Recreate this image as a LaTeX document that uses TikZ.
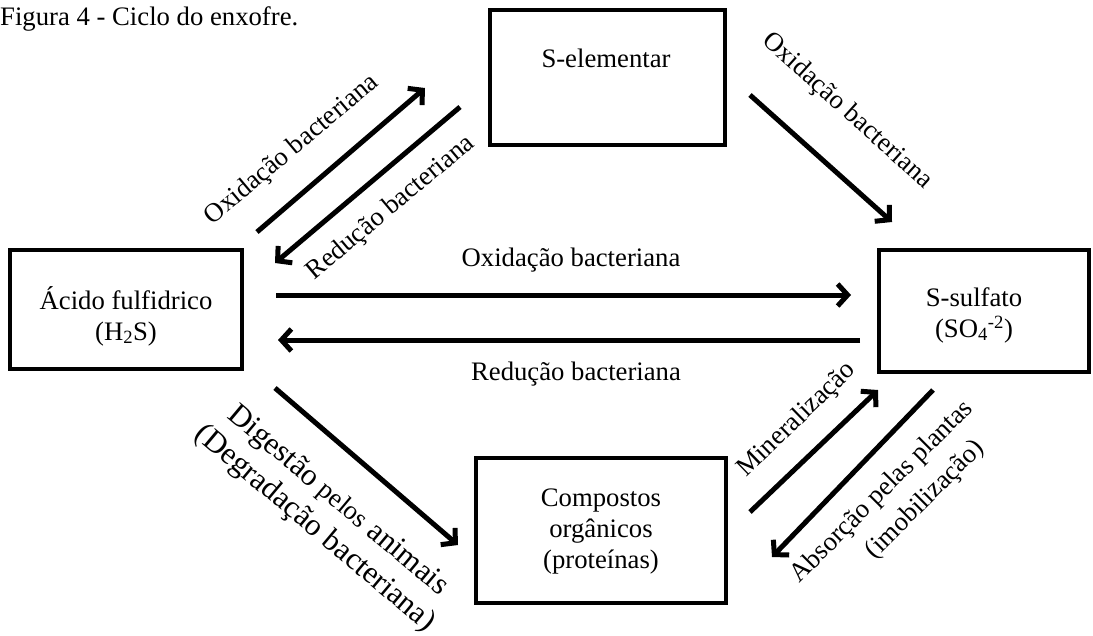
\documentclass[tikz,border=0pt]{standalone}
\usepackage{fontspec}
\setmainfont{Liberation Serif}
\usetikzlibrary{arrows.meta}
\begin{document}
\begin{tikzpicture}[x=1pt,y=-1pt,
  box/.style={draw, line width=4pt, inner sep=0pt, rectangle},
  txt/.style={font=\fontsize{26.7}{31}\selectfont, inner sep=0pt, align=center},
  bigtxt/.style={font=\fontsize{31}{36}\selectfont, inner sep=0pt, align=center},
  arr/.style={line width=5pt, -{Straight Barb[length=10pt,width=22pt]}}
]
\useasboundingbox (0,0) rectangle (1093,635);

% title
\node[txt, anchor=base west] (title) at (0,25) {Figura 4 - Ciclo do enxofre.};

% boxes
\node[box, minimum width=232pt, minimum height=119pt] (A) at (126,309.5) {};
\node[box, minimum width=235pt, minimum height=135pt] (B) at (607.5,77.5) {};
\node[box, minimum width=210pt, minimum height=122pt] (C) at (984,311) {};
\node[box, minimum width=250pt, minimum height=145pt] (D) at (601,530.5) {};

% box texts
\node[txt] (At) at (126,316) {Ácido fulfidrico\\(H\textsubscript{2}S)};
\node[txt] (Bt) at (606,58) {S-elementar};
\node[txt] (Ct) at (974,315) {S-sulfato\\(SO\textsubscript{4}\textsuperscript{-2})};
\node[txt] (Dt) at (601,531.5) {Compostos\\orgânicos\\(proteínas)};

% arrow end points
\coordinate (a1s) at (257,232); \coordinate (a1e) at (425,88);
\coordinate (a2s) at (460,107); \coordinate (a2e) at (275,263);
\coordinate (a3s) at (750,95);  \coordinate (a3e) at (892,222);
\coordinate (a4s) at (276,295); \coordinate (a4e) at (851,295);
\coordinate (a5s) at (860,340); \coordinate (a5e) at (278,340);
\coordinate (a6s) at (275,388); \coordinate (a6e) at (458,545);
\coordinate (a7s) at (750,512); \coordinate (a7e) at (878,390);
\coordinate (a8s) at (933,390); \coordinate (a8e) at (772,557);

\draw[arr] (a1s) -- (a1e);
\draw[arr] (a2s) -- (a2e);
\draw[arr] (a3s) -- (a3e);
\draw[arr] (a4s) -- (a4e);
\draw[arr] (a5s) -- (a5e);
\draw[arr] (a6s) -- (a6e);
\draw[arr] (a7s) -- (a7e);
\draw[arr] (a8s) -- (a8e);

% labels
\node[txt, rotate=40] (l1) at (292,150) {Oxidação bacteriana};
\node[txt, rotate=40] (l2) at (391,208) {Redução bacteriana};
\node[txt, rotate=-42] (l3) at (847,111) {Oxidação bacteriana};
\node[txt] (l4) at (571,260) {Oxidação bacteriana};
\node[txt] (l5) at (576,374) {Redução bacteriana};
\node[bigtxt, rotate=-40] (l6) at (326,515) {Digestão {\fontsize{26.7}{31}\selectfont pelos} animais\\(Degradação bacteriana)};
\node[txt, rotate=44] (l7) at (797,420) {Mineralização};
\node[txt, rotate=45, font=\fontsize{26.7}{36}\selectfont] (l8) at (895,505) {Absorção pelas plantas\\\hspace*{50pt}(imobilização)};
\end{tikzpicture}
\end{document}
